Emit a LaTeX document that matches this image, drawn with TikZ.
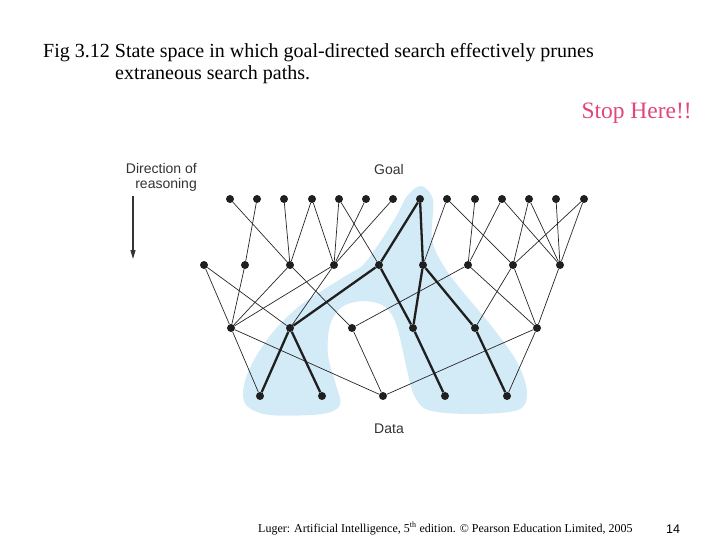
\documentclass[tikz,border=0pt]{standalone}
\usepackage{fontspec}
\setmainfont{Liberation Serif}
\setsansfont{Liberation Sans}
\usetikzlibrary{arrows.meta}

\definecolor{regionblue}{HTML}{D3EAF7}
\definecolor{stoppink}{HTML}{E2457E}
\definecolor{labelgray}{HTML}{333333}

\begin{document}
\begin{tikzpicture}[x=1pt, y=-1pt,
    dot/.style={circle, fill=black!88, inner sep=0pt, minimum size=8pt},
    edge/.style={line width=0.7pt, black!85},
    goaledge/.style={line width=2.3pt, black!88},
    lbl/.style={font=\sffamily\fontsize{14}{16}\selectfont, text=labelgray, inner sep=0pt},
    title/.style={font=\fontsize{20}{22}\selectfont, inner sep=0pt, anchor=base west}
]
\useasboundingbox (0,0) rectangle (720,540);

% Caption and remarks
\node[title] (cap1) at (43,58) {Fig 3.12 State space in which goal-directed search effectively prunes};
\node[title] (cap2) at (115,80) {extraneous search paths.};
\node[font=\fontsize{23.5}{26}\selectfont, text=stoppink, inner sep=0pt, anchor=base east] (stop) at (692,119) {Stop Here!!};
\node[font=\fontsize{12}{14}\selectfont, inner sep=0pt, anchor=base west] (foot) at (258,532)
    {Luger: Artificial Intelligence, 5\textsuperscript{th} edition. \textcopyright{} Pearson Education Limited, 2005};
\node[font=\sffamily\fontsize{12.5}{14}\selectfont, inner sep=0pt, anchor=base west] (page) at (666,533) {14};

% Shaded region of the goal-directed search
\fill[regionblue] plot[smooth cycle, tension=0.55] coordinates {
    (421,186) (433,200) (432,240) (445,268) (463,292) (493,328) (517,362) (527,392)
    (518,410) (470,414) (428,410) (414,395) (407,370) (398,330) (390,312) (380,304)
    (362,301) (342,307) (330,325) (328,355) (336,385) (340,405) (322,414) (270,415)
    (246,405) (244,385) (254,360) (273,332) (297,308) (320,292) (347,275) (363,265)
    (380,242) (397,215) (407,196)};

% Labels
\node[lbl, align=right, anchor=north east] (dir) at (197,163) {Direction of\\[-1pt]reasoning};
\node[lbl, anchor=base] (goal) at (389,175) {Goal};
\node[lbl, anchor=base] (data) at (389,433) {Data};
\coordinate (arrtop) at (133,196);
\coordinate (arrend) at (133,259);
\draw[-{Triangle[length=9pt, width=5pt]}, line width=1.1pt, labelgray] (arrtop) -- (arrend);

% States, level by level
\foreach \x [count=\i] in {230,257,284,312,339,366,393,420,447,475,502,529,556,584}
    \node[dot] (g\i) at (\x,199) {};
\foreach \x [count=\i] in {204,245,290,334,379,423,468,513,560}
    \node[dot] (s\i) at (\x,265) {};
\foreach \x [count=\i] in {231,290,352,413,475,537}
    \node[dot] (r\i) at (\x,328) {};
\foreach \x [count=\i] in {260,322,383,445,507}
    \node[dot] (d\i) at (\x,396) {};

% Moves between states
\foreach \a/\b in {g1/s3, g2/s2, g3/s3, g4/s3, g4/s4, g5/s4, g5/s5, g6/s4, g7/s4,
                   g9/s6, g9/s8, g10/s7, g11/s7, g11/s9, g12/s8, g12/s9, g13/s9, g14/s8, g14/s9,
                   s1/r1, s1/r2, s2/r1, s3/r1, s3/r3, s4/r1, s4/r2, s7/r3, s7/r6, s8/r5, s8/r6, s9/r6,
                   r1/d1, r1/d3, r3/d3, r6/d3, r6/d5}
    \draw[edge] (\a) -- (\b);
\foreach \a/\b in {g8/s5, g8/s6, s5/r2, s5/r4, s6/r4, s6/r5, r2/d1, r2/d2, r4/d4, r5/d5}
    \draw[goaledge] (\a) -- (\b);

\end{tikzpicture}
\end{document}
